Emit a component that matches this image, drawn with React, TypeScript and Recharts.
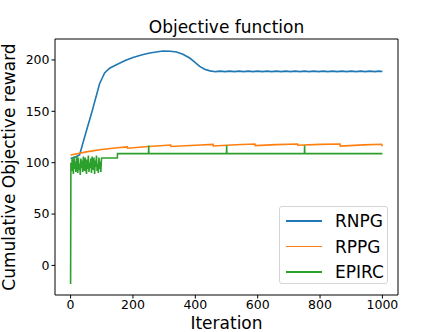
import { LineChart, Line, XAxis, YAxis, Legend, ReferenceLine } from "recharts";

// RNPG
const rnpgIter = [0, 10, 20, 29, 45, 69, 93, 100, 109, 125, 147, 175, 200, 230, 254, 280, 297, 320, 340, 360, 382, 400, 414, 430, 447,
  465, 480, 495, 510, 525, 540, 555, 570, 585, 600, 615, 630, 645, 660, 675, 690, 705, 720, 735, 750, 765, 780, 795, 810, 825, 840,
  855, 870, 885, 900, 915, 930, 945, 960, 975, 990, 1000];
const rnpgReward = [104, 105, 106, 107.8, 125, 150, 176.9, 181.5, 187.4, 192, 195.4, 199.5, 202.5, 205, 206.8, 208, 208.7, 208.5, 207.8, 205.5, 201.9, 197.5, 193.8, 191, 189.4,
  188.6, 189.1, 188.6, 189.1, 188.6, 189.1, 188.6, 189.1, 188.6, 189.1, 188.6, 189.1, 188.6, 189.1, 188.6, 189.1, 188.6, 189.1, 188.6, 189.1, 188.6, 189.1, 188.6, 189.1, 188.6, 189.1,
  188.6, 189.1, 188.6, 189.1, 188.6, 189.1, 188.6, 189.1, 188.6, 189.1, 188.8];

// RPPG
const rppgIter = [0, 25, 50, 100, 150, 182, 183, 250, 321, 322, 400, 457, 458, 530, 591, 592, 660, 728, 729, 800, 864, 865, 940, 997, 1000];
const rppgReward = [107.5, 109, 110.5, 112.8, 114.5, 115.3, 114.1, 115.8, 117.2, 115.8, 117, 117.8, 116.3, 117.5, 118.2, 116.6, 117.6, 118.2, 117, 117.8, 118.2, 116.2, 117.3, 117.9, 116];

// EPIRC
const epircIter = [0, 1, 3, 5, 7, 9, 11, 13, 15, 17, 19, 21, 23, 25, 27, 29, 31, 33, 35, 37, 39, 41, 43, 45, 47, 49,
  51, 53, 55, 57, 59, 61, 63, 65, 67, 69, 71, 73, 75, 77, 79, 81, 83, 85, 87, 89, 91, 93, 95, 97, 99,
  100, 150, 150.5, 250, 250.5, 251, 500, 500.5, 501, 750, 750.5, 751, 1000];
const epircReward = [-18, 100, 92, 104, 96, 89, 106, 94, 101, 91, 107, 97, 90, 105, 93, 99, 88, 104, 95, 102, 91, 106, 98, 92, 105, 96,
  89, 103, 94, 107, 91, 100, 95, 104, 90, 106, 97, 93, 105, 89, 102, 96, 107, 92, 99, 90, 105, 94, 101, 91, 104,
  104.5, 104.5, 108.8, 108.8, 116.8, 108.8, 108.8, 116.8, 108.8, 108.8, 116.8, 108.8, 108.8];

const xTicks = [0, 200, 400, 600, 800, 1000];
const yTicks = [0, 50, 100, 150, 200];
const xDomain = [-50, 1050];
const yDomain = [-28.8, 220.4];

const toPoints = (xs: number[], ys: number[]) => xs.map((x, i) => ({ x, y: ys[i] }));

const series = [
  { name: "RNPG", color: "#1f77b4", data: toPoints(rnpgIter, rnpgReward) },
  { name: "RPPG", color: "#ff7f0e", data: toPoints(rppgIter, rppgReward) },
  { name: "EPIRC", color: "#2ca02c", data: toPoints(epircIter, epircReward) },
];

const FONT = "'DejaVu Sans', sans-serif";
const tickStyle = { fill: "#000", fontSize: 12.5, fontFamily: FONT };

function LegendBox() {
  return (
    <div
      style={{
        width: 109,
        height: 78,
        border: "1px solid #d5d5d5",
        borderRadius: 3,
        background: "rgba(255,255,255,0.8)",
        fontFamily: FONT,
        fontSize: 17,
        boxSizing: "border-box",
        paddingTop: 1,
      }}
    >
      {series.map((s) => (
        <div key={s.name} style={{ display: "flex", alignItems: "center", height: 25.7 }}>
          <div style={{ width: 36, height: 1.5, background: s.color, marginLeft: 6, marginRight: 13 }} />
          <span style={{ color: "#000" }}>{s.name}</span>
        </div>
      ))}
    </div>
  );
}

export default function App() {
  return (
    <div style={{ position: "absolute", left: 0, top: 0, width: 443, height: 332, background: "#fff" }}>
      <div
        style={{
          position: "absolute",
          left: 0,
          width: 453,
          top: 17,
          textAlign: "center",
          fontFamily: FONT,
          fontSize: 17,
          color: "#000",
          lineHeight: "20px",
        }}
      >
        Objective function
      </div>
      <LineChart width={443} height={332} margin={{ top: 39, right: 45, left: 0, bottom: 0 }}>
        <XAxis
          dataKey="x"
          type="number"
          domain={xDomain}
          ticks={xTicks}
          height={37}
          stroke="#000"
          tickSize={3.5}
          tick={tickStyle}
          allowDataOverflow
          label={{
            value: "Iteration",
            position: "insideBottom",
            offset: 3,
            style: { fill: "#000", fontSize: 17, fontFamily: FONT },
          }}
        />
        <YAxis
          type="number"
          domain={yDomain}
          ticks={yTicks}
          width={55}
          stroke="#000"
          tickSize={3.5}
          tick={tickStyle}
          allowDataOverflow
          label={{
            content: () => (
              <text
                x={15}
                y={167}
                transform="rotate(-90 15 167)"
                textAnchor="middle"
                fill="#000"
                fontSize={17}
                fontFamily={FONT}
              >
                Cumulative Objective reward
              </text>
            ),
          }}
        />
        {/* frame: top and right edges of the axes box */}
        <ReferenceLine y={yDomain[1]} stroke="#000" strokeWidth={1} ifOverflow="visible" />
        <ReferenceLine x={xDomain[1]} stroke="#000" strokeWidth={1} ifOverflow="visible" />
        {series.map((s) => (
          <Line
            key={s.name}
            data={s.data}
            dataKey="y"
            name={s.name}
            type="linear"
            stroke={s.color}
            strokeWidth={1.6}
            dot={false}
            isAnimationActive={false}
          />
        ))}
        <Legend
          layout="horizontal"
          align="center"
          verticalAlign="middle"
          content={() => <LegendBox />}
          wrapperStyle={{ position: "absolute", left: 279, top: 206, width: 109, height: 78 }}
        />
      </LineChart>
    </div>
  );
}
